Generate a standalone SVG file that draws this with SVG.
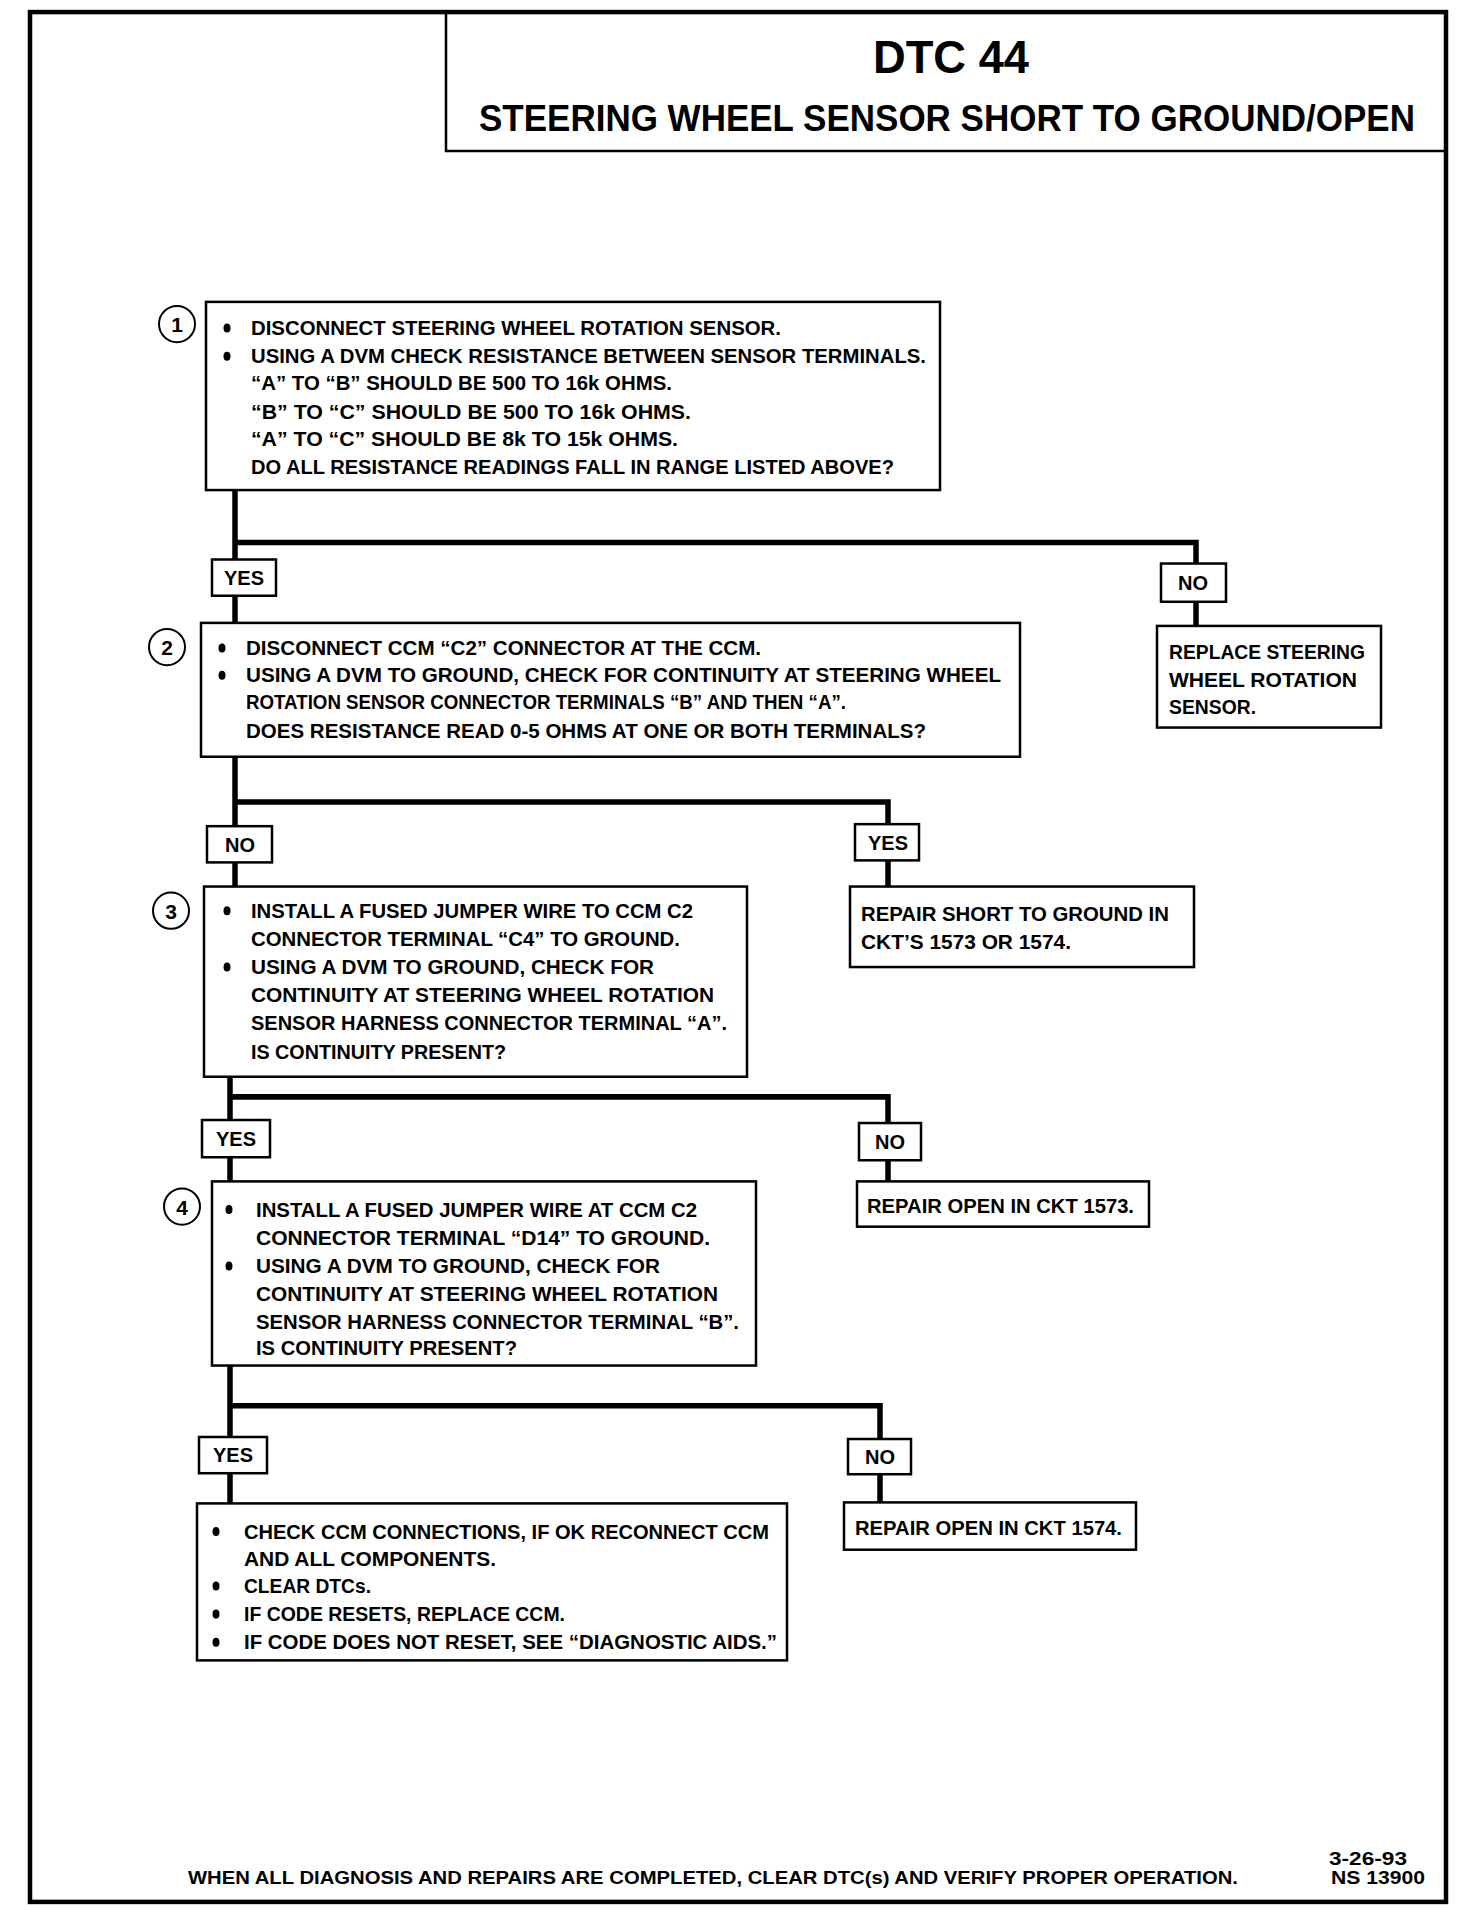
<svg xmlns="http://www.w3.org/2000/svg" width="1472" height="1910" viewBox="0 0 1472 1910">
<style>
text{font-family:"Liberation Sans",Arial,sans-serif;font-weight:bold;fill:#000}
.t{font-size:20.5px}
.lb{font-size:20px;text-anchor:middle}
.box{fill:#fff;stroke:#000;stroke-width:2.5}
.frame{fill:none;stroke:#000;stroke-width:4.5}
.con{fill:none;stroke:#000;stroke-width:5.5}
.num{fill:#fff;stroke:#000;stroke-width:2}
.n{font-size:21px;text-anchor:middle}
.f{font-size:18.5px}
</style>
<rect x="0" y="0" width="1472" height="1910" fill="#fff"/>
<g transform="matrix(1,0,0,1.0063,0,0)">
<rect class="frame" x="30" y="12" width="1416" height="1878"/>
<g id="header">
<polyline class="frame" points="446,12 446,150 1446,150" style="stroke-width:2.5"/>
<text x="951" y="73" style="font-size:46px;text-anchor:middle" textLength="156" lengthAdjust="spacingAndGlyphs">DTC 44</text>
<text x="947" y="130" style="font-size:37px;text-anchor:middle" textLength="936" lengthAdjust="spacingAndGlyphs">STEERING WHEEL SENSOR SHORT TO GROUND/OPEN</text>
</g>
<g id="connectors">
<polyline class="con" points="235,487 235,619"/>
<polyline class="con" points="235,539 1196,539 1196,622"/>
<polyline class="con" points="235,752 235,881"/>
<polyline class="con" points="235,797 888,797 888,881"/>
<polyline class="con" points="230,1070 230,1174"/>
<polyline class="con" points="230,1090 888,1090 888,1174"/>
<polyline class="con" points="230,1357 230,1494"/>
<polyline class="con" points="230,1397 880,1397 880,1493"/>
</g>
<g id="step1">
<rect class="box" x="206" y="300" width="734" height="187"/>
<circle class="num" cx="177" cy="322" r="18"/><text class="n" x="177" y="330">1</text>
<ellipse cx="227" cy="326" rx="3.5" ry="4.5"/><ellipse cx="227" cy="354" rx="3.5" ry="4.5"/>
<text class="t" x="251" y="333" textLength="530" lengthAdjust="spacingAndGlyphs">DISCONNECT STEERING WHEEL ROTATION SENSOR.</text>
<text class="t" x="251" y="361" textLength="675" lengthAdjust="spacingAndGlyphs">USING A DVM CHECK RESISTANCE BETWEEN SENSOR TERMINALS.</text>
<text class="t" x="251" y="388" textLength="421" lengthAdjust="spacingAndGlyphs">“A” TO “B” SHOULD BE 500 TO 16k OHMS.</text>
<text class="t" x="251" y="416" textLength="440" lengthAdjust="spacingAndGlyphs">“B” TO “C” SHOULD BE 500 TO 16k OHMS.</text>
<text class="t" x="251" y="443" textLength="427" lengthAdjust="spacingAndGlyphs">“A” TO “C” SHOULD BE 8k TO 15k OHMS.</text>
<text class="t" x="251" y="471" textLength="643" lengthAdjust="spacingAndGlyphs">DO ALL RESISTANCE READINGS FALL IN RANGE LISTED ABOVE?</text>
</g>
<g id="yes1"><rect class="box" x="212" y="556" width="64" height="36"/><text class="lb" x="244" y="581">YES</text></g>
<g id="no1"><rect class="box" x="1161" y="560" width="65" height="38"/><text class="lb" x="1193" y="586">NO</text></g>
<g id="replace">
<rect class="box" x="1157" y="622" width="224" height="101"/>
<text class="t" x="1169" y="655" textLength="196" lengthAdjust="spacingAndGlyphs">REPLACE STEERING</text>
<text class="t" x="1169" y="683" textLength="188" lengthAdjust="spacingAndGlyphs">WHEEL ROTATION</text>
<text class="t" x="1169" y="710" textLength="87" lengthAdjust="spacingAndGlyphs">SENSOR.</text>
</g>
<g id="step2">
<rect class="box" x="201" y="619" width="819" height="133"/>
<circle class="num" cx="167" cy="643" r="18"/><text class="n" x="167" y="651">2</text>
<ellipse cx="222" cy="644" rx="3.5" ry="4.5"/><ellipse cx="222" cy="671" rx="3.5" ry="4.5"/>
<text class="t" x="246" y="651" textLength="515" lengthAdjust="spacingAndGlyphs">DISCONNECT CCM “C2” CONNECTOR AT THE CCM.</text>
<text class="t" x="246" y="678" textLength="755" lengthAdjust="spacingAndGlyphs">USING A DVM TO GROUND, CHECK FOR CONTINUITY AT STEERING WHEEL</text>
<text class="t" x="246" y="705" textLength="600" lengthAdjust="spacingAndGlyphs">ROTATION SENSOR CONNECTOR TERMINALS “B” AND THEN “A”.</text>
<text class="t" x="246" y="733" textLength="680" lengthAdjust="spacingAndGlyphs">DOES RESISTANCE READ 0-5 OHMS AT ONE OR BOTH TERMINALS?</text>
</g>
<g id="no2"><rect class="box" x="207" y="821" width="65" height="36"/><text class="lb" x="240" y="847">NO</text></g>
<g id="yes2"><rect class="box" x="855" y="819" width="64" height="36"/><text class="lb" x="888" y="845">YES</text></g>
<g id="repairshort">
<rect class="box" x="850" y="881" width="344" height="80"/>
<text class="t" x="861" y="915" textLength="308" lengthAdjust="spacingAndGlyphs">REPAIR SHORT TO GROUND IN</text>
<text class="t" x="861" y="943" textLength="210" lengthAdjust="spacingAndGlyphs">CKT’S 1573 OR 1574.</text>
</g>
<g id="step3">
<rect class="box" x="204" y="881" width="543" height="189"/>
<circle class="num" cx="171" cy="905" r="18"/><text class="n" x="171" y="913">3</text>
<ellipse cx="227" cy="905" rx="3.5" ry="4.5"/><ellipse cx="227" cy="961" rx="3.5" ry="4.5"/>
<text class="t" x="251" y="912" textLength="442" lengthAdjust="spacingAndGlyphs">INSTALL A FUSED JUMPER WIRE TO CCM C2</text>
<text class="t" x="251" y="940" textLength="429" lengthAdjust="spacingAndGlyphs">CONNECTOR TERMINAL “C4” TO GROUND.</text>
<text class="t" x="251" y="968" textLength="403" lengthAdjust="spacingAndGlyphs">USING A DVM TO GROUND, CHECK FOR</text>
<text class="t" x="251" y="996" textLength="463" lengthAdjust="spacingAndGlyphs">CONTINUITY AT STEERING WHEEL ROTATION</text>
<text class="t" x="251" y="1024" textLength="476" lengthAdjust="spacingAndGlyphs">SENSOR HARNESS CONNECTOR TERMINAL “A”.</text>
<text class="t" x="251" y="1052" textLength="255" lengthAdjust="spacingAndGlyphs">IS CONTINUITY PRESENT?</text>
</g>
<g id="yes3"><rect class="box" x="202" y="1113" width="68" height="37"/><text class="lb" x="236" y="1139">YES</text></g>
<g id="no3"><rect class="box" x="859" y="1116" width="62" height="37"/><text class="lb" x="890" y="1142">NO</text></g>
<g id="repair1573">
<rect class="box" x="857" y="1174" width="292" height="45"/>
<text class="t" x="867" y="1205" textLength="267" lengthAdjust="spacingAndGlyphs">REPAIR OPEN IN CKT 1573.</text>
</g>
<g id="step4">
<rect class="box" x="212" y="1174" width="544" height="183"/>
<circle class="num" cx="182" cy="1199" r="18"/><text class="n" x="182" y="1207">4</text>
<ellipse cx="229" cy="1202" rx="3.5" ry="4.5"/><ellipse cx="229" cy="1258" rx="3.5" ry="4.5"/>
<text class="t" x="256" y="1209" textLength="441" lengthAdjust="spacingAndGlyphs">INSTALL A FUSED JUMPER WIRE AT CCM C2</text>
<text class="t" x="256" y="1237" textLength="454" lengthAdjust="spacingAndGlyphs">CONNECTOR TERMINAL “D14” TO GROUND.</text>
<text class="t" x="256" y="1265" textLength="404" lengthAdjust="spacingAndGlyphs">USING A DVM TO GROUND, CHECK FOR</text>
<text class="t" x="256" y="1293" textLength="462" lengthAdjust="spacingAndGlyphs">CONTINUITY AT STEERING WHEEL ROTATION</text>
<text class="t" x="256" y="1321" textLength="483" lengthAdjust="spacingAndGlyphs">SENSOR HARNESS CONNECTOR TERMINAL “B”.</text>
<text class="t" x="256" y="1347" textLength="261" lengthAdjust="spacingAndGlyphs">IS CONTINUITY PRESENT?</text>
</g>
<g id="yes4"><rect class="box" x="199" y="1428" width="68" height="36"/><text class="lb" x="233" y="1453">YES</text></g>
<g id="no4"><rect class="box" x="848" y="1430" width="63" height="35"/><text class="lb" x="880" y="1455">NO</text></g>
<g id="repair1574">
<rect class="box" x="844" y="1493" width="292" height="47"/>
<text class="t" x="855" y="1525" textLength="267" lengthAdjust="spacingAndGlyphs">REPAIR OPEN IN CKT 1574.</text>
</g>
<g id="final">
<rect class="box" x="197" y="1494" width="590" height="156"/>
<ellipse cx="216" cy="1522" rx="3.5" ry="4.5"/><ellipse cx="216" cy="1576" rx="3.5" ry="4.5"/><ellipse cx="216" cy="1604" rx="3.5" ry="4.5"/><ellipse cx="216" cy="1632" rx="3.5" ry="4.5"/>
<text class="t" x="244" y="1529" textLength="525" lengthAdjust="spacingAndGlyphs">CHECK CCM CONNECTIONS, IF OK RECONNECT CCM</text>
<text class="t" x="244" y="1556" textLength="252" lengthAdjust="spacingAndGlyphs">AND ALL COMPONENTS.</text>
<text class="t" x="244" y="1583" textLength="127" lengthAdjust="spacingAndGlyphs">CLEAR DTCs.</text>
<text class="t" x="244" y="1611" textLength="321" lengthAdjust="spacingAndGlyphs">IF CODE RESETS, REPLACE CCM.</text>
<text class="t" x="244" y="1639" textLength="533" lengthAdjust="spacingAndGlyphs">IF CODE DOES NOT RESET, SEE “DIAGNOSTIC AIDS.”</text>
</g>
<g id="footer">
<text class="f" x="188" y="1872" textLength="1050" lengthAdjust="spacingAndGlyphs">WHEN ALL DIAGNOSIS AND REPAIRS ARE COMPLETED, CLEAR DTC(s) AND VERIFY PROPER OPERATION.</text>
<text class="f" x="1329" y="1853" textLength="78" lengthAdjust="spacingAndGlyphs">3-26-93</text>
<text class="f" x="1331" y="1872" textLength="94" lengthAdjust="spacingAndGlyphs">NS 13900</text>
</g>
</g>
</svg>
